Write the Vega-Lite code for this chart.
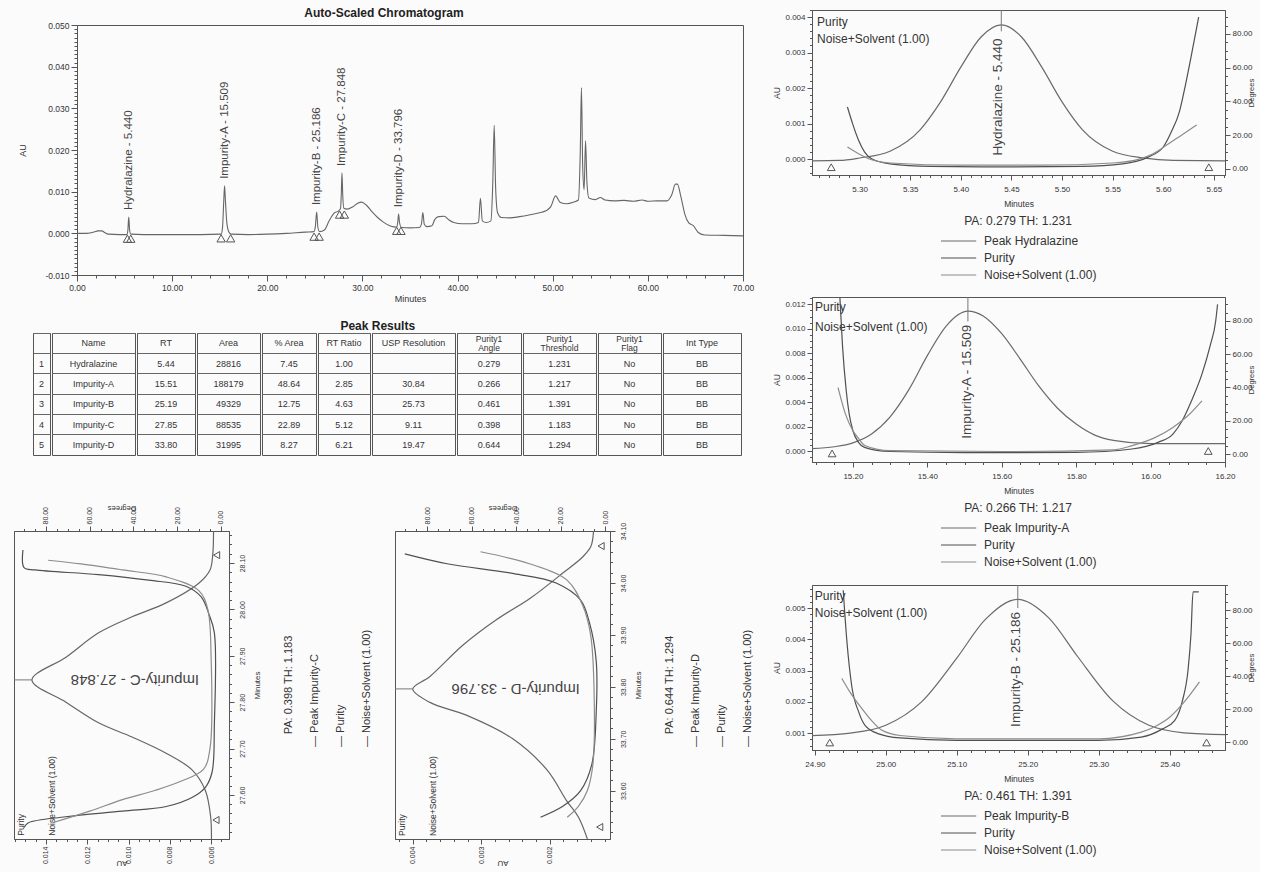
{
  "$schema": "https://vega.github.io/schema/vega-lite/v6.json",
  "padding": {"left": 10, "top": 5, "right": 4, "bottom": 4},
  "config": {
    "background": "#fcfbfc",
    "font": "Liberation Sans",
    "view": {"stroke": "#555", "strokeWidth": 1},
    "axis": {"grid": false, "domainColor": "#555", "tickColor": "#555", "labelColor": "#333", "titleColor": "#333", "labelFont": "Liberation Sans", "titleFont": "Liberation Sans", "labelFontSize": 8, "titleFontSize": 8.5, "titleFontWeight": "normal", "labelOverlap": false, "labelFlush": false, "tickSize": 4, "labelPadding": 2, "titlePadding": 3},
    "title": {"font": "Liberation Sans", "color": "#222"},
    "text": {"font": "Liberation Sans", "color": "#333"},
    "legend": {"titleAnchor": "middle", "titleFontSize": 12, "titleFontWeight": "normal", "titleColor": "#333", "labelColor": "#333", "labelFontSize": 12, "labelFont": "Liberation Sans", "titleFont": "Liberation Sans", "rowPadding": 2, "offset": 8, "titlePadding": 4, "titleLimit": 400, "labelLimit": 300, "layout": {"bottom": {"anchor": "middle"}}}
  },
  "datasets": {
    "main": [
      {"t":0,"au":0},{"t":1,"au":0},{"t":1.8,"au":0.0003},{"t":2.2,"au":0.0006},{"t":2.6,"au":0.0006},{"t":2.9,"au":0.0002},{"t":3.3,"au":-0.0002},{"t":4.5,"au":-0.0003},{"t":5.25,"au":-0.0003},{"t":5.35,"au":0.0008},{"t":5.44,"au":0.0039},{"t":5.53,"au":0.0008},{"t":5.65,"au":-0.0002},{"t":7,"au":-0.0003},{"t":10,"au":-0.0003},{"t":13,"au":-0.0003},{"t":15.15,"au":-0.0002},{"t":15.3,"au":0.0015},{"t":15.42,"au":0.0075},{"t":15.51,"au":0.0114},{"t":15.6,"au":0.0078},{"t":15.75,"au":0.0025},{"t":15.95,"au":0.0004},{"t":16.2,"au":-0.0002},{"t":18,"au":-0.0003},{"t":20,"au":-0.0002},{"t":22,"au":0},{"t":24,"au":0.0003},{"t":24.9,"au":0.0004},{"t":25.05,"au":0.0016},{"t":25.19,"au":0.0051},{"t":25.32,"au":0.0014},{"t":25.5,"au":0.0004},{"t":26,"au":0.0008},{"t":26.5,"au":0.003},{"t":27,"au":0.0048},{"t":27.5,"au":0.0054},{"t":27.7,"au":0.006},{"t":27.78,"au":0.0095},{"t":27.85,"au":0.0145},{"t":27.93,"au":0.0092},{"t":28.05,"au":0.006},{"t":28.4,"au":0.0058},{"t":29,"au":0.0064},{"t":29.5,"au":0.0072},{"t":29.9,"au":0.0075},{"t":30.4,"au":0.0068},{"t":31,"au":0.0052},{"t":31.6,"au":0.0038},{"t":32.2,"au":0.0027},{"t":33,"au":0.0017},{"t":33.6,"au":0.0015},{"t":33.72,"au":0.0028},{"t":33.8,"au":0.0046},{"t":33.9,"au":0.0026},{"t":34.1,"au":0.0014},{"t":35,"au":0.0013},{"t":36,"au":0.0014},{"t":36.2,"au":0.0022},{"t":36.35,"au":0.005},{"t":36.5,"au":0.0022},{"t":36.8,"au":0.0016},{"t":37.3,"au":0.0018},{"t":37.6,"au":0.0033},{"t":38,"au":0.004},{"t":38.6,"au":0.0041},{"t":39.1,"au":0.0032},{"t":39.6,"au":0.0026},{"t":40.5,"au":0.0023},{"t":41.5,"au":0.0023},{"t":42.2,"au":0.0026},{"t":42.4,"au":0.0084},{"t":42.6,"au":0.003},{"t":43,"au":0.0026},{"t":43.5,"au":0.003},{"t":43.7,"au":0.012},{"t":43.85,"au":0.0259},{"t":44,"au":0.011},{"t":44.2,"au":0.005},{"t":44.6,"au":0.0038},{"t":45.5,"au":0.0037},{"t":46.5,"au":0.004},{"t":47.5,"au":0.0044},{"t":48.5,"au":0.0049},{"t":49.3,"au":0.0054},{"t":49.8,"au":0.0064},{"t":50.3,"au":0.009},{"t":50.8,"au":0.0074},{"t":51.5,"au":0.0071},{"t":52.2,"au":0.0075},{"t":52.7,"au":0.008},{"t":52.9,"au":0.02},{"t":53.02,"au":0.035},{"t":53.15,"au":0.016},{"t":53.3,"au":0.0105},{"t":53.45,"au":0.0222},{"t":53.6,"au":0.012},{"t":53.8,"au":0.0085},{"t":54.5,"au":0.0081},{"t":55,"au":0.0086},{"t":55.5,"au":0.008},{"t":56.5,"au":0.0078},{"t":57.5,"au":0.0079},{"t":58.5,"au":0.0077},{"t":59.4,"au":0.008},{"t":60,"au":0.0077},{"t":61,"au":0.0078},{"t":62,"au":0.0078},{"t":62.5,"au":0.0092},{"t":62.9,"au":0.0118},{"t":63.1,"au":0.0118},{"t":63.5,"au":0.0085},{"t":63.9,"au":0.0045},{"t":64.3,"au":0.0025},{"t":64.8,"au":0.0018},{"t":65.3,"au":0.0002},{"t":66,"au":-0.0004},{"t":68,"au":-0.0005},{"t":70,"au":-0.0006}
    ],
    "tri_main": [
      {"t":5.3,"au":-0.0013},{"t":5.65,"au":-0.0013},{"t":15.15,"au":-0.0012},{"t":16.15,"au":-0.0012},{"t":24.92,"au":-0.0008},{"t":25.45,"au":-0.0008},{"t":27.6,"au":0.0045},{"t":28.1,"au":0.0045},{"t":33.6,"au":0.0006},{"t":34.05,"au":0.0006}
    ],
    "mlab": [
      {"label":"Hydralazine - 5.440","t":5.44,"au":0.0039},
      {"label":"Impurity-A - 15.509","t":15.509,"au":0.0114},
      {"label":"Impurity-B - 25.186","t":25.186,"au":0.0051},
      {"label":"Impurity-C - 27.848","t":27.848,"au":0.0145},
      {"label":"Impurity-D - 33.796","t":33.796,"au":0.0046}
    ],
    "peaks": [
      {"n":"1","name":"Hydralazine","rt":"5.44","area":"28816","parea":"7.45","ratio":"1.00","usp":"","angle":"0.279","thr":"1.231","flag":"No","itype":"BB"},
      {"n":"2","name":"Impurity-A","rt":"15.51","area":"188179","parea":"48.64","ratio":"2.85","usp":"30.84","angle":"0.266","thr":"1.217","flag":"No","itype":"BB"},
      {"n":"3","name":"Impurity-B","rt":"25.19","area":"49329","parea":"12.75","ratio":"4.63","usp":"25.73","angle":"0.461","thr":"1.391","flag":"No","itype":"BB"},
      {"n":"4","name":"Impurity-C","rt":"27.85","area":"88535","parea":"22.89","ratio":"5.12","usp":"9.11","angle":"0.398","thr":"1.183","flag":"No","itype":"BB"},
      {"n":"5","name":"Impurity-D","rt":"33.80","area":"31995","parea":"8.27","ratio":"6.21","usp":"19.47","angle":"0.644","thr":"1.294","flag":"No","itype":"BB"}
    ],
    "p1_peak": [
      {"series":"Peak Hydralazine","t":5.253,"au":-0.00005},{"series":"Peak Hydralazine","t":5.28,"au":-0.00004},{"series":"Peak Hydralazine","t":5.3,"au":0.00003},{"series":"Peak Hydralazine","t":5.33,"au":0.00022},{"series":"Peak Hydralazine","t":5.36,"au":0.00083},{"series":"Peak Hydralazine","t":5.38,"au":0.00161},{"series":"Peak Hydralazine","t":5.4,"au":0.00259},{"series":"Peak Hydralazine","t":5.42,"au":0.00344},{"series":"Peak Hydralazine","t":5.44,"au":0.00378},{"series":"Peak Hydralazine","t":5.46,"au":0.00344},{"series":"Peak Hydralazine","t":5.48,"au":0.00259},{"series":"Peak Hydralazine","t":5.5,"au":0.00161},{"series":"Peak Hydralazine","t":5.52,"au":0.00083},{"series":"Peak Hydralazine","t":5.55,"au":0.00022},{"series":"Peak Hydralazine","t":5.58,"au":0.00003},{"series":"Peak Hydralazine","t":5.61,"au":-0.00004},{"series":"Peak Hydralazine","t":5.661,"au":-0.00005}
    ],
    "p1_deg": [
      {"series":"Purity","t":5.288,"deg":36.7},{"series":"Purity","t":5.293,"deg":27},{"series":"Purity","t":5.299,"deg":17},{"series":"Purity","t":5.305,"deg":10},{"series":"Purity","t":5.312,"deg":6},{"series":"Purity","t":5.33,"deg":3},{"series":"Purity","t":5.37,"deg":1.5},{"series":"Purity","t":5.44,"deg":1.2},{"series":"Purity","t":5.52,"deg":1.5},{"series":"Purity","t":5.56,"deg":3},{"series":"Purity","t":5.585,"deg":7},{"series":"Purity","t":5.6,"deg":13},{"series":"Purity","t":5.608,"deg":22},{"series":"Purity","t":5.616,"deg":34},{"series":"Purity","t":5.622,"deg":50},{"series":"Purity","t":5.628,"deg":68},{"series":"Purity","t":5.635,"deg":90},
      {"series":"Noise+Solvent (1.00)","t":5.288,"deg":13},{"series":"Noise+Solvent (1.00)","t":5.299,"deg":9},{"series":"Noise+Solvent (1.00)","t":5.309,"deg":6},{"series":"Noise+Solvent (1.00)","t":5.33,"deg":3.5},{"series":"Noise+Solvent (1.00)","t":5.4,"deg":2.2},{"series":"Noise+Solvent (1.00)","t":5.48,"deg":2.2},{"series":"Noise+Solvent (1.00)","t":5.55,"deg":3.5},{"series":"Noise+Solvent (1.00)","t":5.577,"deg":6},{"series":"Noise+Solvent (1.00)","t":5.59,"deg":9},{"series":"Noise+Solvent (1.00)","t":5.603,"deg":14},{"series":"Noise+Solvent (1.00)","t":5.618,"deg":20},{"series":"Noise+Solvent (1.00)","t":5.633,"deg":26}
    ],
    "tri_p1": [{"t":5.272,"au":-0.00023},{"t":5.645,"au":-0.00023}],
    "p2_peak": [
      {"series":"Peak Impurity-A","t":15.09,"au":0.0002},{"series":"Peak Impurity-A","t":15.15,"au":0.00035},{"series":"Peak Impurity-A","t":15.2,"au":0.00067},{"series":"Peak Impurity-A","t":15.25,"au":0.0014},{"series":"Peak Impurity-A","t":15.3,"au":0.0028},{"series":"Peak Impurity-A","t":15.35,"au":0.005},{"series":"Peak Impurity-A","t":15.4,"au":0.0078},{"series":"Peak Impurity-A","t":15.45,"au":0.0102},{"series":"Peak Impurity-A","t":15.509,"au":0.01144},{"series":"Peak Impurity-A","t":15.55,"au":0.01105},{"series":"Peak Impurity-A","t":15.6,"au":0.0096},{"series":"Peak Impurity-A","t":15.65,"au":0.0075},{"series":"Peak Impurity-A","t":15.7,"au":0.0053},{"series":"Peak Impurity-A","t":15.75,"au":0.0035},{"series":"Peak Impurity-A","t":15.8,"au":0.0022},{"series":"Peak Impurity-A","t":15.85,"au":0.0013},{"series":"Peak Impurity-A","t":15.9,"au":0.00087},{"series":"Peak Impurity-A","t":16,"au":0.0006},{"series":"Peak Impurity-A","t":16.1,"au":0.0006},{"series":"Peak Impurity-A","t":16.2,"au":0.0006}
    ],
    "p2_deg": [
      {"series":"Purity","t":15.165,"deg":94},{"series":"Purity","t":15.172,"deg":65},{"series":"Purity","t":15.182,"deg":38},{"series":"Purity","t":15.19,"deg":24},{"series":"Purity","t":15.2,"deg":14},{"series":"Purity","t":15.215,"deg":7},{"series":"Purity","t":15.231,"deg":4},{"series":"Purity","t":15.3,"deg":1.5},{"series":"Purity","t":15.5,"deg":0.8},{"series":"Purity","t":15.8,"deg":1},{"series":"Purity","t":15.95,"deg":3},{"series":"Purity","t":16.02,"deg":7},{"series":"Purity","t":16.06,"deg":12},{"series":"Purity","t":16.085,"deg":20},{"series":"Purity","t":16.11,"deg":32},{"series":"Purity","t":16.138,"deg":48},{"series":"Purity","t":16.16,"deg":65},{"series":"Purity","t":16.175,"deg":80},{"series":"Purity","t":16.18,"deg":90},
      {"series":"Noise+Solvent (1.00)","t":15.16,"deg":40},{"series":"Noise+Solvent (1.00)","t":15.18,"deg":24},{"series":"Noise+Solvent (1.00)","t":15.2,"deg":14},{"series":"Noise+Solvent (1.00)","t":15.213,"deg":10},{"series":"Noise+Solvent (1.00)","t":15.233,"deg":5},{"series":"Noise+Solvent (1.00)","t":15.3,"deg":2},{"series":"Noise+Solvent (1.00)","t":15.6,"deg":1.5},{"series":"Noise+Solvent (1.00)","t":15.9,"deg":2.5},{"series":"Noise+Solvent (1.00)","t":15.95,"deg":5},{"series":"Noise+Solvent (1.00)","t":16.013,"deg":10},{"series":"Noise+Solvent (1.00)","t":16.06,"deg":16},{"series":"Noise+Solvent (1.00)","t":16.1,"deg":23},{"series":"Noise+Solvent (1.00)","t":16.138,"deg":32}
    ],
    "tri_p2": [{"t":15.144,"au":-0.0002},{"t":16.155,"au":0}],
    "p3_peak": [
      {"series":"Peak Impurity-B","t":24.896,"au":0.00092},{"series":"Peak Impurity-B","t":24.95,"au":0.001},{"series":"Peak Impurity-B","t":25,"au":0.00125},{"series":"Peak Impurity-B","t":25.05,"au":0.00199},{"series":"Peak Impurity-B","t":25.1,"au":0.0034},{"series":"Peak Impurity-B","t":25.14,"au":0.00463},{"series":"Peak Impurity-B","t":25.186,"au":0.00528},{"series":"Peak Impurity-B","t":25.23,"au":0.00468},{"series":"Peak Impurity-B","t":25.27,"au":0.00346},{"series":"Peak Impurity-B","t":25.32,"au":0.00203},{"series":"Peak Impurity-B","t":25.37,"au":0.00126},{"series":"Peak Impurity-B","t":25.42,"au":0.00101},{"series":"Peak Impurity-B","t":25.478,"au":0.00095}
    ],
    "p3_deg": [
      {"series":"Purity","t":24.94,"deg":92},{"series":"Purity","t":24.945,"deg":62},{"series":"Purity","t":24.952,"deg":34},{"series":"Purity","t":24.962,"deg":18},{"series":"Purity","t":24.971,"deg":10},{"series":"Purity","t":24.99,"deg":5},{"series":"Purity","t":25.02,"deg":2.5},{"series":"Purity","t":25.1,"deg":1},{"series":"Purity","t":25.3,"deg":1},{"series":"Purity","t":25.36,"deg":3},{"series":"Purity","t":25.39,"deg":8},{"series":"Purity","t":25.407,"deg":13},{"series":"Purity","t":25.418,"deg":25},{"series":"Purity","t":25.426,"deg":44},{"series":"Purity","t":25.43,"deg":65},{"series":"Purity","t":25.433,"deg":91},{"series":"Purity","t":25.441,"deg":91},
      {"series":"Noise+Solvent (1.00)","t":24.938,"deg":38.6},{"series":"Noise+Solvent (1.00)","t":24.95,"deg":30},{"series":"Noise+Solvent (1.00)","t":24.965,"deg":21},{"series":"Noise+Solvent (1.00)","t":24.98,"deg":13},{"series":"Noise+Solvent (1.00)","t":24.994,"deg":7.3},{"series":"Noise+Solvent (1.00)","t":25.02,"deg":4},{"series":"Noise+Solvent (1.00)","t":25.1,"deg":2},{"series":"Noise+Solvent (1.00)","t":25.3,"deg":2},{"series":"Noise+Solvent (1.00)","t":25.36,"deg":6},{"series":"Noise+Solvent (1.00)","t":25.379,"deg":9.3},{"series":"Noise+Solvent (1.00)","t":25.4,"deg":15},{"series":"Noise+Solvent (1.00)","t":25.42,"deg":24},{"series":"Noise+Solvent (1.00)","t":25.442,"deg":36.5}
    ],
    "tri_p3": [{"t":24.921,"au":0.0007},{"t":25.452,"au":0.0007}],
    "c_peak": [
      {"t":27.505,"au":0.00598},{"t":27.553,"au":0.00602},{"t":27.61,"au":0.00628},{"t":27.654,"au":0.00692},{"t":27.69,"au":0.00818},{"t":27.725,"au":0.00983},{"t":27.755,"au":0.01143},{"t":27.8,"au":0.01303},{"t":27.848,"au":0.01468},{"t":27.897,"au":0.01303},{"t":27.95,"au":0.01143},{"t":27.984,"au":0.00983},{"t":28.014,"au":0.00818},{"t":28.057,"au":0.00658},{"t":28.085,"au":0.00605},{"t":28.117,"au":0.00592},{"t":28.169,"au":0.00588}
    ],
    "c_deg": [
      {"series":"Purity","t":27.53,"deg":90},{"series":"Purity","t":27.54,"deg":88},{"series":"Purity","t":27.553,"deg":71},{"series":"Purity","t":27.565,"deg":45},{"series":"Purity","t":27.575,"deg":25},{"series":"Purity","t":27.595,"deg":13},{"series":"Purity","t":27.617,"deg":7},{"series":"Purity","t":27.65,"deg":4},{"series":"Purity","t":27.75,"deg":3},{"series":"Purity","t":27.95,"deg":3},{"series":"Purity","t":27.99,"deg":5.5},{"series":"Purity","t":28.027,"deg":9},{"series":"Purity","t":28.05,"deg":16},{"series":"Purity","t":28.063,"deg":33},{"series":"Purity","t":28.075,"deg":56},{"series":"Purity","t":28.085,"deg":85},{"series":"Purity","t":28.09,"deg":90},{"series":"Purity","t":28.128,"deg":90.5},
      {"series":"Noise+Solvent (1.00)","t":27.54,"deg":77},{"series":"Noise+Solvent (1.00)","t":27.565,"deg":60},{"series":"Noise+Solvent (1.00)","t":27.59,"deg":45},{"series":"Noise+Solvent (1.00)","t":27.61,"deg":30},{"series":"Noise+Solvent (1.00)","t":27.63,"deg":18},{"series":"Noise+Solvent (1.00)","t":27.655,"deg":8},{"series":"Noise+Solvent (1.00)","t":27.7,"deg":5},{"series":"Noise+Solvent (1.00)","t":27.9,"deg":4.5},{"series":"Noise+Solvent (1.00)","t":28,"deg":6},{"series":"Noise+Solvent (1.00)","t":28.04,"deg":10},{"series":"Noise+Solvent (1.00)","t":28.07,"deg":25},{"series":"Noise+Solvent (1.00)","t":28.085,"deg":45},{"series":"Noise+Solvent (1.00)","t":28.098,"deg":64},{"series":"Noise+Solvent (1.00)","t":28.106,"deg":79}
    ],
    "tri_c": [{"t":28.117,"au":0.00573},{"t":27.546,"au":0.00576}],
    "d_peak": [
      {"t":33.507,"au":0.00145},{"t":33.549,"au":0.00158},{"t":33.58,"au":0.00175},{"t":33.64,"au":0.00204},{"t":33.7,"au":0.00254},{"t":33.745,"au":0.00321},{"t":33.77,"au":0.00375},{"t":33.796,"au":0.004},{"t":33.82,"au":0.00375},{"t":33.88,"au":0.00327},{"t":33.93,"au":0.00277},{"t":33.97,"au":0.00229},{"t":34.02,"au":0.0018},{"t":34.05,"au":0.00152},{"t":34.07,"au":0.0014},{"t":34.1,"au":0.00136}
    ],
    "d_deg": [
      {"series":"Purity","t":33.549,"deg":29},{"series":"Purity","t":33.57,"deg":19},{"series":"Purity","t":33.6,"deg":11},{"series":"Purity","t":33.65,"deg":6},{"series":"Purity","t":33.75,"deg":4},{"series":"Purity","t":33.85,"deg":4},{"series":"Purity","t":33.923,"deg":7},{"series":"Purity","t":33.967,"deg":11},{"series":"Purity","t":34,"deg":22},{"series":"Purity","t":34.018,"deg":41},{"series":"Purity","t":34.037,"deg":71},{"series":"Purity","t":34.056,"deg":90},
      {"series":"Noise+Solvent (1.00)","t":33.549,"deg":17},{"series":"Noise+Solvent (1.00)","t":33.57,"deg":12},{"series":"Noise+Solvent (1.00)","t":33.6,"deg":8},{"series":"Noise+Solvent (1.00)","t":33.65,"deg":5.5},{"series":"Noise+Solvent (1.00)","t":33.8,"deg":5},{"series":"Noise+Solvent (1.00)","t":33.9,"deg":6.5},{"series":"Noise+Solvent (1.00)","t":33.956,"deg":10},{"series":"Noise+Solvent (1.00)","t":34.005,"deg":17},{"series":"Noise+Solvent (1.00)","t":34.037,"deg":34},{"series":"Noise+Solvent (1.00)","t":34.06,"deg":56}
    ],
    "tri_d": [{"t":34.071,"au":0.00125},{"t":33.53,"au":0.00127}],
    "c_pa": [{"k":"pa","txt":"PA: 0.398  TH: 1.183"}],
    "c_items": [{"k":"a","txt":"— Peak Impurity-C"},{"k":"b","txt":"— Purity"},{"k":"c","txt":"— Noise+Solvent (1.00)"}],
    "d_pa": [{"k":"pa","txt":"PA: 0.644  TH: 1.294"}],
    "d_items": [{"k":"a","txt":"— Peak Impurity-D"},{"k":"b","txt":"— Purity"},{"k":"c","txt":"— Noise+Solvent (1.00)"}]
  },
  "concat": [
    {
      "vconcat": [
        {
          "vconcat": [
            {
              "vconcat": [
                {"width": 740, "height": 6, "view": {"stroke": null}, "data": {"values": [{}]}, "mark": {"type": "text", "fontSize": 12, "fontWeight": "bold", "color": "#222", "align": "center", "baseline": "middle"}, "encoding": {"text": {"value": "Auto-Scaled Chromatogram"}}},
                {
                  "spacing": 0,
                  "hconcat": [
                    {"width": 3, "height": 1, "view": {"stroke": null}, "data": {"values": [{}]}, "mark": {"type": "text"}, "encoding": {"text": {"value": ""}}},
                    {
                      "width": 666, "height": 250,
                      "layer": [
                        {"data": {"name": "main"}, "mark": {"type": "line", "color": "#666", "strokeWidth": 1.1, "interpolate": "monotone"},
                         "encoding": {
                           "x": {"field": "t", "type": "quantitative", "scale": {"domain": [0, 70], "nice": false, "zero": false},
                                 "axis": {"title": "Minutes", "tickCount": 35, "labelExpr": "abs(datum.value/10-round(datum.value/10))<1e-6 ? format(datum.value,'.2f') : ''", "tickSize": {"condition": {"test": "abs(datum.value/10-round(datum.value/10))<1e-6", "value": 6}, "value": 3}, "labelFontSize": 8.5, "titleFontSize": 9}},
                           "y": {"field": "au", "type": "quantitative", "scale": {"domain": [-0.01, 0.05], "nice": false, "zero": false},
                                 "axis": {"title": "AU", "tickCount": 60, "labelExpr": "abs(datum.value*100-round(datum.value*100))<1e-6 ? replace(format(datum.value,'.3f'),'−','-') : ''", "tickSize": {"condition": {"test": "abs(datum.value*100-round(datum.value*100))<1e-6", "value": 6}, "value": 3}, "minExtent": 40, "titlePadding": 10, "labelFontSize": 8.5, "titleFontSize": 9}}
                         }},
                        {"data": {"name": "tri_main"}, "mark": {"type": "point", "shape": "triangle-up", "filled": false, "size": 70, "color": "#555", "opacity": 1, "strokeWidth": 1},
                         "encoding": {"x": {"field": "t", "type": "quantitative"}, "y": {"field": "au", "type": "quantitative"}}},
                        {"data": {"name": "mlab"}, "mark": {"type": "text", "angle": 270, "align": "left", "baseline": "middle", "dx": 7, "fontSize": 11.5, "color": "#444"},
                         "encoding": {"x": {"field": "t", "type": "quantitative"}, "y": {"field": "au", "type": "quantitative"}, "text": {"field": "label"}}}
                      ]
                    }
                  ]
                }
              ],
              "spacing": 0
            },
            {
              "title": {"text": "Peak Results", "anchor": "middle", "fontSize": 12, "fontWeight": "bold", "offset": 0},
              "spacing": 0,
              "hconcat": [
                {"width": 18, "height": 122, "view": {"stroke": null}, "data": {"values": [{}]}, "mark": {"type": "text"}, "encoding": {"text": {"value": ""}}},
                {"width": 17, "height": 122, "data": {"name": "peaks"}, "mark": {"type": "text", "fontSize": 9, "color": "#333"},
                 "encoding": {"y": {"field": "n", "type": "ordinal", "scale": {"type": "band", "domain": ["h","1","2","3","4","5"], "paddingInner": 0, "paddingOuter": 0}, "axis": {"title": null, "labels": false, "ticks": false, "domain": false, "grid": true, "bandPosition": 0, "gridColor": "#666"}}, "text": {"field": "n"}}},
                {"width": 83, "height": 122, "layer": [
                  {"data": {"name": "peaks"}, "mark": {"type": "text", "fontSize": 9, "color": "#333"},
                   "encoding": {"y": {"field": "n", "type": "ordinal", "scale": {"type": "band", "domain": ["h","1","2","3","4","5"], "paddingInner": 0, "paddingOuter": 0}, "axis": {"title": null, "labels": false, "ticks": false, "domain": false, "grid": true, "bandPosition": 0, "gridColor": "#666"}}, "text": {"field": "name"}}},
                  {"data": {"values": [{}]}, "mark": {"type": "text", "fontSize": 9, "color": "#333"}, "encoding": {"y": {"datum": "h"}, "text": {"value": "Name"}}}
                ]},
                {"width": 58, "height": 122, "layer": [
                  {"data": {"name": "peaks"}, "mark": {"type": "text", "fontSize": 9, "color": "#333"},
                   "encoding": {"y": {"field": "n", "type": "ordinal", "scale": {"type": "band", "domain": ["h","1","2","3","4","5"], "paddingInner": 0, "paddingOuter": 0}, "axis": {"title": null, "labels": false, "ticks": false, "domain": false, "grid": true, "bandPosition": 0, "gridColor": "#666"}}, "text": {"field": "rt"}}},
                  {"data": {"values": [{}]}, "mark": {"type": "text", "fontSize": 9, "color": "#333"}, "encoding": {"y": {"datum": "h"}, "text": {"value": "RT"}}}
                ]},
                {"width": 63, "height": 122, "layer": [
                  {"data": {"name": "peaks"}, "mark": {"type": "text", "fontSize": 9, "color": "#333"},
                   "encoding": {"y": {"field": "n", "type": "ordinal", "scale": {"type": "band", "domain": ["h","1","2","3","4","5"], "paddingInner": 0, "paddingOuter": 0}, "axis": {"title": null, "labels": false, "ticks": false, "domain": false, "grid": true, "bandPosition": 0, "gridColor": "#666"}}, "text": {"field": "area"}}},
                  {"data": {"values": [{}]}, "mark": {"type": "text", "fontSize": 9, "color": "#333"}, "encoding": {"y": {"datum": "h"}, "text": {"value": "Area"}}}
                ]},
                {"width": 54, "height": 122, "layer": [
                  {"data": {"name": "peaks"}, "mark": {"type": "text", "fontSize": 9, "color": "#333"},
                   "encoding": {"y": {"field": "n", "type": "ordinal", "scale": {"type": "band", "domain": ["h","1","2","3","4","5"], "paddingInner": 0, "paddingOuter": 0}, "axis": {"title": null, "labels": false, "ticks": false, "domain": false, "grid": true, "bandPosition": 0, "gridColor": "#666"}}, "text": {"field": "parea"}}},
                  {"data": {"values": [{}]}, "mark": {"type": "text", "fontSize": 9, "color": "#333"}, "encoding": {"y": {"datum": "h"}, "text": {"value": "% Area"}}}
                ]},
                {"width": 52, "height": 122, "layer": [
                  {"data": {"name": "peaks"}, "mark": {"type": "text", "fontSize": 9, "color": "#333"},
                   "encoding": {"y": {"field": "n", "type": "ordinal", "scale": {"type": "band", "domain": ["h","1","2","3","4","5"], "paddingInner": 0, "paddingOuter": 0}, "axis": {"title": null, "labels": false, "ticks": false, "domain": false, "grid": true, "bandPosition": 0, "gridColor": "#666"}}, "text": {"field": "ratio"}}},
                  {"data": {"values": [{}]}, "mark": {"type": "text", "fontSize": 9, "color": "#333"}, "encoding": {"y": {"datum": "h"}, "text": {"value": "RT Ratio"}}}
                ]},
                {"width": 83, "height": 122, "layer": [
                  {"data": {"name": "peaks"}, "mark": {"type": "text", "fontSize": 9, "color": "#333"},
                   "encoding": {"y": {"field": "n", "type": "ordinal", "scale": {"type": "band", "domain": ["h","1","2","3","4","5"], "paddingInner": 0, "paddingOuter": 0}, "axis": {"title": null, "labels": false, "ticks": false, "domain": false, "grid": true, "bandPosition": 0, "gridColor": "#666"}}, "text": {"field": "usp"}}},
                  {"data": {"values": [{}]}, "mark": {"type": "text", "fontSize": 9, "color": "#333"}, "encoding": {"y": {"datum": "h"}, "text": {"value": "USP Resolution"}}}
                ]},
                {"width": 64, "height": 122, "layer": [
                  {"data": {"name": "peaks"}, "mark": {"type": "text", "fontSize": 9, "color": "#333"},
                   "encoding": {"y": {"field": "n", "type": "ordinal", "scale": {"type": "band", "domain": ["h","1","2","3","4","5"], "paddingInner": 0, "paddingOuter": 0}, "axis": {"title": null, "labels": false, "ticks": false, "domain": false, "grid": true, "bandPosition": 0, "gridColor": "#666"}}, "text": {"field": "angle"}}},
                  {"data": {"values": [{}]}, "mark": {"type": "text", "fontSize": 8.5, "color": "#333", "lineHeight": 9, "dy": -4.5}, "encoding": {"y": {"datum": "h"}, "text": {"value": ["Purity1", "Angle"]}}}
                ]},
                {"width": 73, "height": 122, "layer": [
                  {"data": {"name": "peaks"}, "mark": {"type": "text", "fontSize": 9, "color": "#333"},
                   "encoding": {"y": {"field": "n", "type": "ordinal", "scale": {"type": "band", "domain": ["h","1","2","3","4","5"], "paddingInner": 0, "paddingOuter": 0}, "axis": {"title": null, "labels": false, "ticks": false, "domain": false, "grid": true, "bandPosition": 0, "gridColor": "#666"}}, "text": {"field": "thr"}}},
                  {"data": {"values": [{}]}, "mark": {"type": "text", "fontSize": 8.5, "color": "#333", "lineHeight": 9, "dy": -4.5}, "encoding": {"y": {"datum": "h"}, "text": {"value": ["Purity1", "Threshold"]}}}
                ]},
                {"width": 63, "height": 122, "layer": [
                  {"data": {"name": "peaks"}, "mark": {"type": "text", "fontSize": 9, "color": "#333"},
                   "encoding": {"y": {"field": "n", "type": "ordinal", "scale": {"type": "band", "domain": ["h","1","2","3","4","5"], "paddingInner": 0, "paddingOuter": 0}, "axis": {"title": null, "labels": false, "ticks": false, "domain": false, "grid": true, "bandPosition": 0, "gridColor": "#666"}}, "text": {"field": "flag"}}},
                  {"data": {"values": [{}]}, "mark": {"type": "text", "fontSize": 8.5, "color": "#333", "lineHeight": 9, "dy": -4.5}, "encoding": {"y": {"datum": "h"}, "text": {"value": ["Purity1", "Flag"]}}}
                ]},
                {"width": 78, "height": 122, "layer": [
                  {"data": {"name": "peaks"}, "mark": {"type": "text", "fontSize": 9, "color": "#333"},
                   "encoding": {"y": {"field": "n", "type": "ordinal", "scale": {"type": "band", "domain": ["h","1","2","3","4","5"], "paddingInner": 0, "paddingOuter": 0}, "axis": {"title": null, "labels": false, "ticks": false, "domain": false, "grid": true, "bandPosition": 0, "gridColor": "#666"}}, "text": {"field": "itype"}}},
                  {"data": {"values": [{}]}, "mark": {"type": "text", "fontSize": 9, "color": "#333"}, "encoding": {"y": {"datum": "h"}, "text": {"value": "Int Type"}}}
                ]}
              ]
            }
          ],
          "spacing": 15
        },
        {
          "spacing": 14,
          "resolve": {"scale": {"color": "independent"}, "legend": {"color": "independent"}},
          "hconcat": [
            {
              "width": 215, "height": 308,
              "layer": [
                {"layer": [
                  {"data": {"name": "c_peak"}, "mark": {"type": "line", "interpolate": "catmull-rom", "color": "#666", "strokeWidth": 1.2, "clip": true},
                   "encoding": {
                     "x": {"field": "au", "type": "quantitative", "scale": {"domain": [0.00513, 0.01555], "nice": false, "zero": false, "reverse": true},
                           "axis": {"title": "AU", "orient": "bottom", "labelAngle": 270, "titleAngle": 180, "tickCount": 21, "labelExpr": "abs(datum.value*500-round(datum.value*500))<1e-6 ? format(datum.value,'.3f') : ''", "tickSize": {"condition": {"test": "abs(datum.value*500-round(datum.value*500))<1e-6", "value": 5}, "value": 2.5}, "labelFontSize": 7, "titleFontSize": 8}},
                     "y": {"field": "t", "type": "quantitative", "scale": {"domain": [27.505, 28.169], "nice": false, "zero": false},
                           "axis": {"title": "Minutes", "orient": "right", "labelAngle": 270, "titleAngle": 270, "tickCount": 33, "labelExpr": "abs(datum.value*10-round(datum.value*10))<1e-6 ? format(datum.value,'.2f') : ''", "tickSize": {"condition": {"test": "abs(datum.value*10-round(datum.value*10))<1e-6", "value": 5}, "value": 2.5}, "labelFontSize": 7, "titleFontSize": 8, "labelPadding": 4, "titlePadding": 16}},
                     "order": {"field": "t", "type": "quantitative"}
                   }},
                  {"data": {"name": "tri_c"}, "mark": {"type": "point", "shape": "triangle-left", "filled": false, "size": 50, "color": "#555", "opacity": 1, "strokeWidth": 1},
                   "encoding": {"x": {"field": "au", "type": "quantitative"}, "y": {"field": "t", "type": "quantitative"}}},
                  {"data": {"values": [{}]}, "mark": {"type": "rule", "color": "#777"}, "encoding": {"y": {"datum": 27.848}, "x": {"datum": 0.01468}, "x2": {"datum": 0.01555}}},
                  {"data": {"values": [{}]}, "mark": {"type": "text", "angle": 180, "align": "left", "baseline": "middle", "fontSize": 15, "color": "#444"}, "encoding": {"x": {"datum": 0.00658}, "y": {"datum": 27.848}, "text": {"value": "Impurity-C - 27.848"}}},
                  {"data": {"values": [{}]}, "mark": {"type": "text", "angle": 270, "align": "left", "baseline": "middle", "fontSize": 8.5, "color": "#333"}, "encoding": {"x": {"datum": 0.0152}, "y": {"datum": 27.512}, "text": {"value": "Purity"}}},
                  {"data": {"values": [{}]}, "mark": {"type": "text", "angle": 270, "align": "left", "baseline": "middle", "fontSize": 8.5, "color": "#333"}, "encoding": {"x": {"datum": 0.0137}, "y": {"datum": 27.512}, "text": {"value": "Noise+Solvent (1.00)"}}}
                ]},
                {"data": {"name": "c_deg"}, "mark": {"type": "line", "interpolate": "catmull-rom", "strokeWidth": 1.2, "clip": true},
                 "encoding": {
                   "x": {"field": "deg", "type": "quantitative", "scale": {"domain": [-3.7, 94.6], "nice": false, "zero": false, "reverse": true},
                         "axis": {"title": "Degrees", "orient": "top", "labelAngle": 270, "titleAngle": 180, "tickCount": 20, "labelExpr": "datum.value>=0 && abs(datum.value/20-round(datum.value/20))<1e-6 ? format(datum.value,'.2f') : ''", "tickSize": {"condition": {"test": "abs(datum.value/20-round(datum.value/20))<1e-6", "value": 5}, "value": 2.5}, "labelFontSize": 7, "titleFontSize": 7.5}},
                   "y": {"field": "t", "type": "quantitative"},
                   "color": {"field": "series", "type": "nominal", "scale": {"domain": ["Purity", "Noise+Solvent (1.00)"], "range": ["#505050", "#8c8c8c"]}, "legend": null},
                   "order": {"field": "t", "type": "quantitative"}
                 }}
              ],
              "resolve": {"scale": {"x": "independent"}}
            },
            {
              "width": 104, "height": 308, "view": {"stroke": null},
              "layer": [
                {"data": {"name": "c_pa"}, "mark": {"type": "text", "angle": 270, "align": "center", "baseline": "middle", "fontSize": 11, "color": "#333"},
                 "encoding": {"x": {"field": "k", "type": "nominal", "scale": {"type": "band", "domain": ["pa","a","b","c"], "paddingInner": 0, "paddingOuter": 0}, "axis": null}, "text": {"field": "txt"}}},
                {"data": {"name": "c_items"}, "mark": {"type": "text", "angle": 270, "align": "left", "baseline": "middle", "dx": -62, "fontSize": 11, "color": "#333"},
                 "encoding": {"x": {"field": "k", "type": "nominal"}, "text": {"field": "txt"}}}
              ]
            },
            {
              "width": 215, "height": 308,
              "layer": [
                {"layer": [
                  {"data": {"name": "d_peak"}, "mark": {"type": "line", "interpolate": "catmull-rom", "color": "#666", "strokeWidth": 1.2, "clip": true},
                   "encoding": {
                     "x": {"field": "au", "type": "quantitative", "scale": {"domain": [0.00112, 0.00426], "nice": false, "zero": false, "reverse": true},
                           "axis": {"title": "AU", "orient": "bottom", "labelAngle": 270, "titleAngle": 180, "tickCount": 16, "labelExpr": "abs(datum.value*1000-round(datum.value*1000))<1e-6 ? format(datum.value,'.3f') : ''", "tickSize": {"condition": {"test": "abs(datum.value*1000-round(datum.value*1000))<1e-6", "value": 5}, "value": 2.5}, "labelFontSize": 7, "titleFontSize": 8}},
                     "y": {"field": "t", "type": "quantitative", "scale": {"domain": [33.507, 34.1], "nice": false, "zero": false},
                           "axis": {"title": "Minutes", "orient": "right", "labelAngle": 270, "titleAngle": 270, "tickCount": 30, "labelExpr": "abs(datum.value*10-round(datum.value*10))<1e-6 ? format(datum.value,'.2f') : ''", "tickSize": {"condition": {"test": "abs(datum.value*10-round(datum.value*10))<1e-6", "value": 5}, "value": 2.5}, "labelFontSize": 7, "titleFontSize": 8, "labelPadding": 4, "titlePadding": 16}},
                     "order": {"field": "t", "type": "quantitative"}
                   }},
                  {"data": {"name": "tri_d"}, "mark": {"type": "point", "shape": "triangle-left", "filled": false, "size": 50, "color": "#555", "opacity": 1, "strokeWidth": 1},
                   "encoding": {"x": {"field": "au", "type": "quantitative"}, "y": {"field": "t", "type": "quantitative"}}},
                  {"data": {"values": [{}]}, "mark": {"type": "rule", "color": "#777"}, "encoding": {"y": {"datum": 33.796}, "x": {"datum": 0.004}, "x2": {"datum": 0.00426}}},
                  {"data": {"values": [{}]}, "mark": {"type": "text", "angle": 180, "align": "left", "baseline": "middle", "fontSize": 15, "color": "#444"}, "encoding": {"x": {"datum": 0.00156}, "y": {"datum": 33.796}, "text": {"value": "Impurity-D - 33.796"}}},
                  {"data": {"values": [{}]}, "mark": {"type": "text", "angle": 270, "align": "left", "baseline": "middle", "fontSize": 8.5, "color": "#333"}, "encoding": {"x": {"datum": 0.00416}, "y": {"datum": 33.513}, "text": {"value": "Purity"}}},
                  {"data": {"values": [{}]}, "mark": {"type": "text", "angle": 270, "align": "left", "baseline": "middle", "fontSize": 8.5, "color": "#333"}, "encoding": {"x": {"datum": 0.00371}, "y": {"datum": 33.513}, "text": {"value": "Noise+Solvent (1.00)"}}}
                ]},
                {"data": {"name": "d_deg"}, "mark": {"type": "line", "interpolate": "catmull-rom", "strokeWidth": 1.2, "clip": true},
                 "encoding": {
                   "x": {"field": "deg", "type": "quantitative", "scale": {"domain": [-2.2, 94.4], "nice": false, "zero": false, "reverse": true},
                         "axis": {"title": "Degrees", "orient": "top", "labelAngle": 270, "titleAngle": 180, "tickCount": 20, "labelExpr": "datum.value>=0 && abs(datum.value/20-round(datum.value/20))<1e-6 ? format(datum.value,'.2f') : ''", "tickSize": {"condition": {"test": "abs(datum.value/20-round(datum.value/20))<1e-6", "value": 5}, "value": 2.5}, "labelFontSize": 7, "titleFontSize": 7.5}},
                   "y": {"field": "t", "type": "quantitative"},
                   "color": {"field": "series", "type": "nominal", "scale": {"domain": ["Purity", "Noise+Solvent (1.00)"], "range": ["#505050", "#8c8c8c"]}, "legend": null},
                   "order": {"field": "t", "type": "quantitative"}
                 }}
              ],
              "resolve": {"scale": {"x": "independent"}}
            },
            {
              "width": 104, "height": 308, "view": {"stroke": null},
              "layer": [
                {"data": {"name": "d_pa"}, "mark": {"type": "text", "angle": 270, "align": "center", "baseline": "middle", "fontSize": 11, "color": "#333"},
                 "encoding": {"x": {"field": "k", "type": "nominal", "scale": {"type": "band", "domain": ["pa","a","b","c"], "paddingInner": 0, "paddingOuter": 0}, "axis": null}, "text": {"field": "txt"}}},
                {"data": {"name": "d_items"}, "mark": {"type": "text", "angle": 270, "align": "left", "baseline": "middle", "dx": -62, "fontSize": 11, "color": "#333"},
                 "encoding": {"x": {"field": "k", "type": "nominal"}, "text": {"field": "txt"}}}
              ]
            }
          ]
        }
      ],
      "spacing": 47,
      "resolve": {"scale": {"color": "independent"}, "legend": {"color": "independent"}}
    },
    {
      "vconcat": [
        {
          "width": 413, "height": 165,
          "layer": [
            {"layer": [
              {"data": {"name": "p1_peak"}, "mark": {"type": "line", "interpolate": "monotone", "strokeWidth": 1.2, "clip": true},
               "encoding": {
                 "x": {"field": "t", "type": "quantitative", "scale": {"domain": [5.253, 5.661], "nice": false, "zero": false},
                       "axis": {"title": "Minutes", "tickCount": 41, "labelPadding": 5, "titlePadding": 6, "labelExpr": "abs(datum.value*20-round(datum.value*20))<1e-6 ? format(datum.value,'.2f') : ''", "tickSize": {"condition": {"test": "abs(datum.value*20-round(datum.value*20))<1e-6", "value": 5}, "value": 2.5}}},
                 "y": {"field": "au", "type": "quantitative", "scale": {"domain": [-0.00045, 0.0042], "nice": false, "zero": false},
                       "axis": {"title": "AU", "tickCount": 23, "labelExpr": "abs(datum.value*1000-round(datum.value*1000))<1e-6 ? format(datum.value,'.3f') : ''", "tickSize": {"condition": {"test": "abs(datum.value*1000-round(datum.value*1000))<1e-6", "value": 5}, "value": 2.5}}},
                 "color": {"field": "series", "type": "nominal", "scale": {"domain": ["Peak Hydralazine", "Purity", "Noise+Solvent (1.00)"], "range": ["#6a6a6a", "#505050", "#8c8c8c"]},
                           "legend": {"title": "PA: 0.279  TH: 1.231", "orient": "bottom", "direction": "vertical", "symbolType": "M -1 0 L 3.4 0", "symbolSize": 256, "symbolStrokeWidth": 1.2, "labelOffset": 26}}
               }},
              {"data": {"name": "tri_p1"}, "mark": {"type": "point", "shape": "triangle-up", "filled": false, "size": 60, "color": "#555", "opacity": 1, "strokeWidth": 1},
               "encoding": {"x": {"field": "t", "type": "quantitative"}, "y": {"field": "au", "type": "quantitative"}}},
              {"data": {"values": [{}]}, "mark": {"type": "rule", "color": "#777"}, "encoding": {"x": {"datum": 5.44}, "y": {"datum": 0.0036}, "y2": {"datum": 0.0042}}},
              {"data": {"values": [{}]}, "mark": {"type": "text", "angle": 270, "align": "left", "baseline": "middle", "fontSize": 13.5, "color": "#444"}, "encoding": {"x": {"datum": 5.437}, "y": {"datum": 0.0001}, "text": {"value": "Hydralazine - 5.440"}}},
              {"data": {"values": [{}]}, "mark": {"type": "text", "align": "left", "baseline": "middle", "fontSize": 12, "color": "#333"}, "encoding": {"x": {"datum": 5.258}, "y": {"datum": 0.00386}, "text": {"value": "Purity"}}},
              {"data": {"values": [{}]}, "mark": {"type": "text", "align": "left", "baseline": "middle", "fontSize": 12, "color": "#333"}, "encoding": {"x": {"datum": 5.258}, "y": {"datum": 0.00338}, "text": {"value": "Noise+Solvent (1.00)"}}}
            ]},
            {"data": {"name": "p1_deg"}, "mark": {"type": "line", "interpolate": "monotone", "strokeWidth": 1.2, "clip": true},
             "encoding": {
               "x": {"field": "t", "type": "quantitative"},
               "y": {"field": "deg", "type": "quantitative", "scale": {"domain": [-3.6, 94.2], "nice": false, "zero": false},
                     "axis": {"title": "Degrees", "orient": "right", "titleAngle": 270, "titleFontSize": 7.5, "tickCount": 20, "labelExpr": "datum.value>=0 && abs(datum.value/20-round(datum.value/20))<1e-6 ? format(datum.value,'.2f') : ''", "tickSize": {"condition": {"test": "abs(datum.value/20-round(datum.value/20))<1e-6", "value": 5}, "value": 2.5}}},
               "color": {"field": "series", "type": "nominal"}
             }}
          ],
          "resolve": {"scale": {"y": "independent"}}
        },
        {
          "width": 413, "height": 165,
          "layer": [
            {"layer": [
              {"data": {"name": "p2_peak"}, "mark": {"type": "line", "interpolate": "monotone", "strokeWidth": 1.2, "clip": true},
               "encoding": {
                 "x": {"field": "t", "type": "quantitative", "scale": {"domain": [15.09, 16.2], "nice": false, "zero": false},
                       "axis": {"title": "Minutes", "tickCount": 22, "labelPadding": 5, "titlePadding": 6, "labelExpr": "abs(datum.value*5-round(datum.value*5))<1e-6 ? format(datum.value,'.2f') : ''", "tickSize": {"condition": {"test": "abs(datum.value*5-round(datum.value*5))<1e-6", "value": 5}, "value": 2.5}}},
                 "y": {"field": "au", "type": "quantitative", "scale": {"domain": [-0.0009, 0.0126], "nice": false, "zero": false},
                       "axis": {"title": "AU", "tickCount": 27, "labelExpr": "abs(datum.value*500-round(datum.value*500))<1e-6 ? format(datum.value,'.3f') : ''", "tickSize": {"condition": {"test": "abs(datum.value*500-round(datum.value*500))<1e-6", "value": 5}, "value": 2.5}}},
                 "color": {"field": "series", "type": "nominal", "scale": {"domain": ["Peak Impurity-A", "Purity", "Noise+Solvent (1.00)"], "range": ["#6a6a6a", "#505050", "#8c8c8c"]},
                           "legend": {"title": "PA: 0.266  TH: 1.217", "orient": "bottom", "direction": "vertical", "symbolType": "M -1 0 L 3.4 0", "symbolSize": 256, "symbolStrokeWidth": 1.2, "labelOffset": 26}}
               }},
              {"data": {"name": "tri_p2"}, "mark": {"type": "point", "shape": "triangle-up", "filled": false, "size": 60, "color": "#555", "opacity": 1, "strokeWidth": 1},
               "encoding": {"x": {"field": "t", "type": "quantitative"}, "y": {"field": "au", "type": "quantitative"}}},
              {"data": {"values": [{}]}, "mark": {"type": "rule", "color": "#777"}, "encoding": {"x": {"datum": 15.509}, "y": {"datum": 0.0106}, "y2": {"datum": 0.0126}}},
              {"data": {"values": [{}]}, "mark": {"type": "text", "angle": 270, "align": "left", "baseline": "middle", "fontSize": 13.5, "color": "#444"}, "encoding": {"x": {"datum": 15.506}, "y": {"datum": 0.001}, "text": {"value": "Impurity-A - 15.509"}}},
              {"data": {"values": [{}]}, "mark": {"type": "text", "align": "left", "baseline": "middle", "fontSize": 12, "color": "#333"}, "encoding": {"x": {"datum": 15.098}, "y": {"datum": 0.01178}, "text": {"value": "Purity"}}},
              {"data": {"values": [{}]}, "mark": {"type": "text", "align": "left", "baseline": "middle", "fontSize": 12, "color": "#333"}, "encoding": {"x": {"datum": 15.098}, "y": {"datum": 0.01015}, "text": {"value": "Noise+Solvent (1.00)"}}}
            ]},
            {"data": {"name": "p2_deg"}, "mark": {"type": "line", "interpolate": "monotone", "strokeWidth": 1.2, "clip": true},
             "encoding": {
               "x": {"field": "t", "type": "quantitative"},
               "y": {"field": "deg", "type": "quantitative", "scale": {"domain": [-4.8, 94.4], "nice": false, "zero": false},
                     "axis": {"title": "Degrees", "orient": "right", "titleAngle": 270, "titleFontSize": 7.5, "tickCount": 20, "labelExpr": "datum.value>=0 && abs(datum.value/20-round(datum.value/20))<1e-6 ? format(datum.value,'.2f') : ''", "tickSize": {"condition": {"test": "abs(datum.value/20-round(datum.value/20))<1e-6", "value": 5}, "value": 2.5}}},
               "color": {"field": "series", "type": "nominal"}
             }}
          ],
          "resolve": {"scale": {"y": "independent"}}
        },
        {
          "width": 413, "height": 165,
          "layer": [
            {"layer": [
              {"data": {"name": "p3_peak"}, "mark": {"type": "line", "interpolate": "monotone", "strokeWidth": 1.2, "clip": true},
               "encoding": {
                 "x": {"field": "t", "type": "quantitative", "scale": {"domain": [24.896, 25.478], "nice": false, "zero": false},
                       "axis": {"title": "Minutes", "tickCount": 29, "labelPadding": 5, "titlePadding": 6, "labelExpr": "abs(datum.value*10-round(datum.value*10))<1e-6 ? format(datum.value,'.2f') : ''", "tickSize": {"condition": {"test": "abs(datum.value*10-round(datum.value*10))<1e-6", "value": 5}, "value": 2.5}}},
                 "y": {"field": "au", "type": "quantitative", "scale": {"domain": [0.00046, 0.00574], "nice": false, "zero": false},
                       "axis": {"title": "AU", "tickCount": 26, "labelExpr": "abs(datum.value*1000-round(datum.value*1000))<1e-6 ? format(datum.value,'.3f') : ''", "tickSize": {"condition": {"test": "abs(datum.value*1000-round(datum.value*1000))<1e-6", "value": 5}, "value": 2.5}}},
                 "color": {"field": "series", "type": "nominal", "scale": {"domain": ["Peak Impurity-B", "Purity", "Noise+Solvent (1.00)"], "range": ["#6a6a6a", "#505050", "#8c8c8c"]},
                           "legend": {"title": "PA: 0.461  TH: 1.391", "orient": "bottom", "direction": "vertical", "symbolType": "M -1 0 L 3.4 0", "symbolSize": 256, "symbolStrokeWidth": 1.2, "labelOffset": 26}}
               }},
              {"data": {"name": "tri_p3"}, "mark": {"type": "point", "shape": "triangle-up", "filled": false, "size": 60, "color": "#555", "opacity": 1, "strokeWidth": 1},
               "encoding": {"x": {"field": "t", "type": "quantitative"}, "y": {"field": "au", "type": "quantitative"}}},
              {"data": {"values": [{}]}, "mark": {"type": "rule", "color": "#777"}, "encoding": {"x": {"datum": 25.186}, "y": {"datum": 0.005}, "y2": {"datum": 0.00574}}},
              {"data": {"values": [{}]}, "mark": {"type": "text", "angle": 270, "align": "left", "baseline": "middle", "fontSize": 13.5, "color": "#444"}, "encoding": {"x": {"datum": 25.183}, "y": {"datum": 0.0012}, "text": {"value": "Impurity-B - 25.186"}}},
              {"data": {"values": [{}]}, "mark": {"type": "text", "align": "left", "baseline": "middle", "fontSize": 12, "color": "#333"}, "encoding": {"x": {"datum": 24.9}, "y": {"datum": 0.00539}, "text": {"value": "Purity"}}},
              {"data": {"values": [{}]}, "mark": {"type": "text", "align": "left", "baseline": "middle", "fontSize": 12, "color": "#333"}, "encoding": {"x": {"datum": 24.9}, "y": {"datum": 0.00484}, "text": {"value": "Noise+Solvent (1.00)"}}}
            ]},
            {"data": {"name": "p3_deg"}, "mark": {"type": "line", "interpolate": "monotone", "strokeWidth": 1.2, "clip": true},
             "encoding": {
               "x": {"field": "t", "type": "quantitative"},
               "y": {"field": "deg", "type": "quantitative", "scale": {"domain": [-4.8, 95.2], "nice": false, "zero": false},
                     "axis": {"title": "Degrees", "orient": "right", "titleAngle": 270, "titleFontSize": 7.5, "tickCount": 20, "labelExpr": "datum.value>=0 && abs(datum.value/20-round(datum.value/20))<1e-6 ? format(datum.value,'.2f') : ''", "tickSize": {"condition": {"test": "abs(datum.value/20-round(datum.value/20))<1e-6", "value": 5}, "value": 2.5}}},
               "color": {"field": "series", "type": "nominal"}
             }}
          ],
          "resolve": {"scale": {"y": "independent"}}
        }
      ],
      "spacing": 11,
      "resolve": {"scale": {"color": "independent"}, "legend": {"color": "independent"}}
    }
  ],
  "columns": 2,
  "align": "none",
  "spacing": 11,
  "resolve": {"scale": {"color": "independent"}, "legend": {"color": "independent"}}
}
